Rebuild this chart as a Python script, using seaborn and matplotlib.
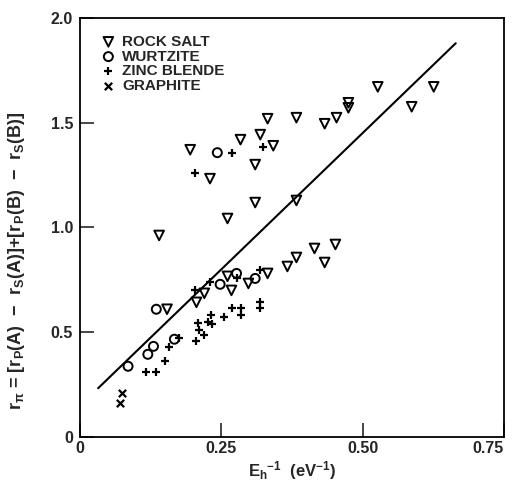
import matplotlib
matplotlib.use("Agg")
import matplotlib.pyplot as plt
import seaborn as sns
import pandas as pd
import numpy as np

sns.set_theme(style="ticks")
plt.rcParams["font.family"] = ["Liberation Sans", "DejaVu Sans"]
plt.rcParams["mathtext.fontset"] = "custom"
plt.rcParams["mathtext.rm"] = "Liberation Sans:bold"
plt.rcParams["mathtext.it"] = "Liberation Sans:bold"
plt.rcParams["mathtext.bf"] = "Liberation Sans:bold"

# Inverse homopolar gap E_h^-1 (eV^-1) and orbital-radius index r_pi per structure
rock_salt_x = [0.140, 0.195, 0.230, 0.284, 0.319, 0.332, 0.342, 0.310, 0.310, 0.261,
               0.383, 0.383, 0.433, 0.454, 0.475, 0.475, 0.527, 0.587, 0.626,
               0.154, 0.206, 0.220, 0.261, 0.268, 0.298, 0.332, 0.367, 0.383,
               0.415, 0.433, 0.452]
rock_salt_y = [0.962, 1.371, 1.233, 1.419, 1.443, 1.519, 1.390, 1.300, 1.119, 1.043,
               1.524, 1.129, 1.495, 1.524, 1.595, 1.571, 1.671, 1.576, 1.671,
               0.610, 0.643, 0.686, 0.767, 0.700, 0.733, 0.781, 0.814, 0.857,
               0.900, 0.833, 0.919]

wurtzite_x = [0.243, 0.085, 0.120, 0.130, 0.135, 0.167, 0.248, 0.277, 0.310]
wurtzite_y = [1.357, 0.338, 0.395, 0.433, 0.610, 0.467, 0.729, 0.781, 0.757]

zinc_blende_x = [0.269, 0.323, 0.204, 0.204, 0.230, 0.277, 0.319, 0.176, 0.158, 0.151,
                 0.117, 0.135, 0.206, 0.220, 0.209, 0.211, 0.227, 0.234, 0.232, 0.255,
                 0.269, 0.285, 0.285, 0.319, 0.319]
zinc_blende_y = [1.357, 1.386, 1.262, 0.700, 0.738, 0.757, 0.795, 0.471, 0.429, 0.362,
                 0.310, 0.310, 0.457, 0.486, 0.543, 0.510, 0.548, 0.538, 0.581, 0.571,
                 0.614, 0.614, 0.581, 0.643, 0.614]

graphite_x = [0.074, 0.071]
graphite_y = [0.210, 0.162]

# Linear fit through the data
fit_intercept = 0.150
fit_slope = 2.60
fit_x = [0.032, 0.665]

x_ticks = [0, 0.25, 0.50, 0.75]
x_tick_labels = ["0", "0.25", "0.50", "0.75"]
y_ticks = [0, 0.5, 1.0, 1.5, 2.0]
y_tick_labels = ["0", "0.5", "1.0", "1.5", "2.0"]

fig = plt.figure(figsize=(5.13, 4.83), dpi=100)
ax = fig.add_axes([0.156, 0.095, 0.826, 0.868])

fit_df = pd.DataFrame({"x": fit_x})
fit_df["y"] = fit_intercept + fit_slope * fit_df["x"]
sns.lineplot(data=fit_df, x="x", y="y", ax=ax, color="black", lw=1.5)

groups = [
    ("ROCK SALT", rock_salt_x, rock_salt_y, "v", 48, True),
    ("WURTZITE", wurtzite_x, wurtzite_y, "o", 42, True),
    ("ZINC BLENDE", zinc_blende_x, zinc_blende_y, "+", 40, False),
    ("GRAPHITE", graphite_x, graphite_y, "x", 28, False),
]
for name, gx, gy, mk, size, hollow in groups:
    df = pd.DataFrame({"x": gx, "y": gy})
    if hollow:
        sns.scatterplot(data=df, x="x", y="y", ax=ax, marker=mk, s=size,
                        facecolor="none", edgecolor="black", linewidth=1.4,
                        label=name)
    else:
        sns.scatterplot(data=df, x="x", y="y", ax=ax, marker=mk, s=size,
                        color="black", linewidth=1.6, label=name)

ax.set_xlim(0, 0.75)
ax.set_ylim(0, 2.0)
ax.set_xticks(x_ticks)
ax.set_xticklabels(x_tick_labels)
ax.set_yticks(y_ticks)
ax.set_yticklabels(y_tick_labels)
ax.tick_params(direction="in", length=10, width=1.2, labelsize=11.5,
               top=False, right=False)
ax.tick_params(axis="x", pad=3)
ax.tick_params(axis="y", pad=5)
for lbl in ax.get_xticklabels() + ax.get_yticklabels():
    lbl.set_fontweight("bold")
ax.get_xticklabels()[-1].set_horizontalalignment("right")
for sp in ax.spines.values():
    sp.set_linewidth(1.3)
    sp.set_color("black")

ax.set_xlabel(r"E$_h$$^{-1}$  (eV$^{-1}$)", fontsize=12, fontweight="bold", labelpad=2)
ax.set_ylabel(r"r$_\pi$ = [r$_P$(A)  $-$  r$_S$(A)]+[r$_P$(B)  $-$  r$_S$(B)]",
              fontsize=13, fontweight="bold")
ax.yaxis.set_label_coords(-0.125, 0.42)

leg = ax.legend(loc="upper left", bbox_to_anchor=(0.02, 0.985), frameon=False,
                fontsize=11, handletextpad=0.3, labelspacing=0.05,
                borderaxespad=0.3, handlelength=1.2)
for t in leg.get_texts():
    t.set_fontweight("bold")

fig.savefig("out.png", dpi=100)
